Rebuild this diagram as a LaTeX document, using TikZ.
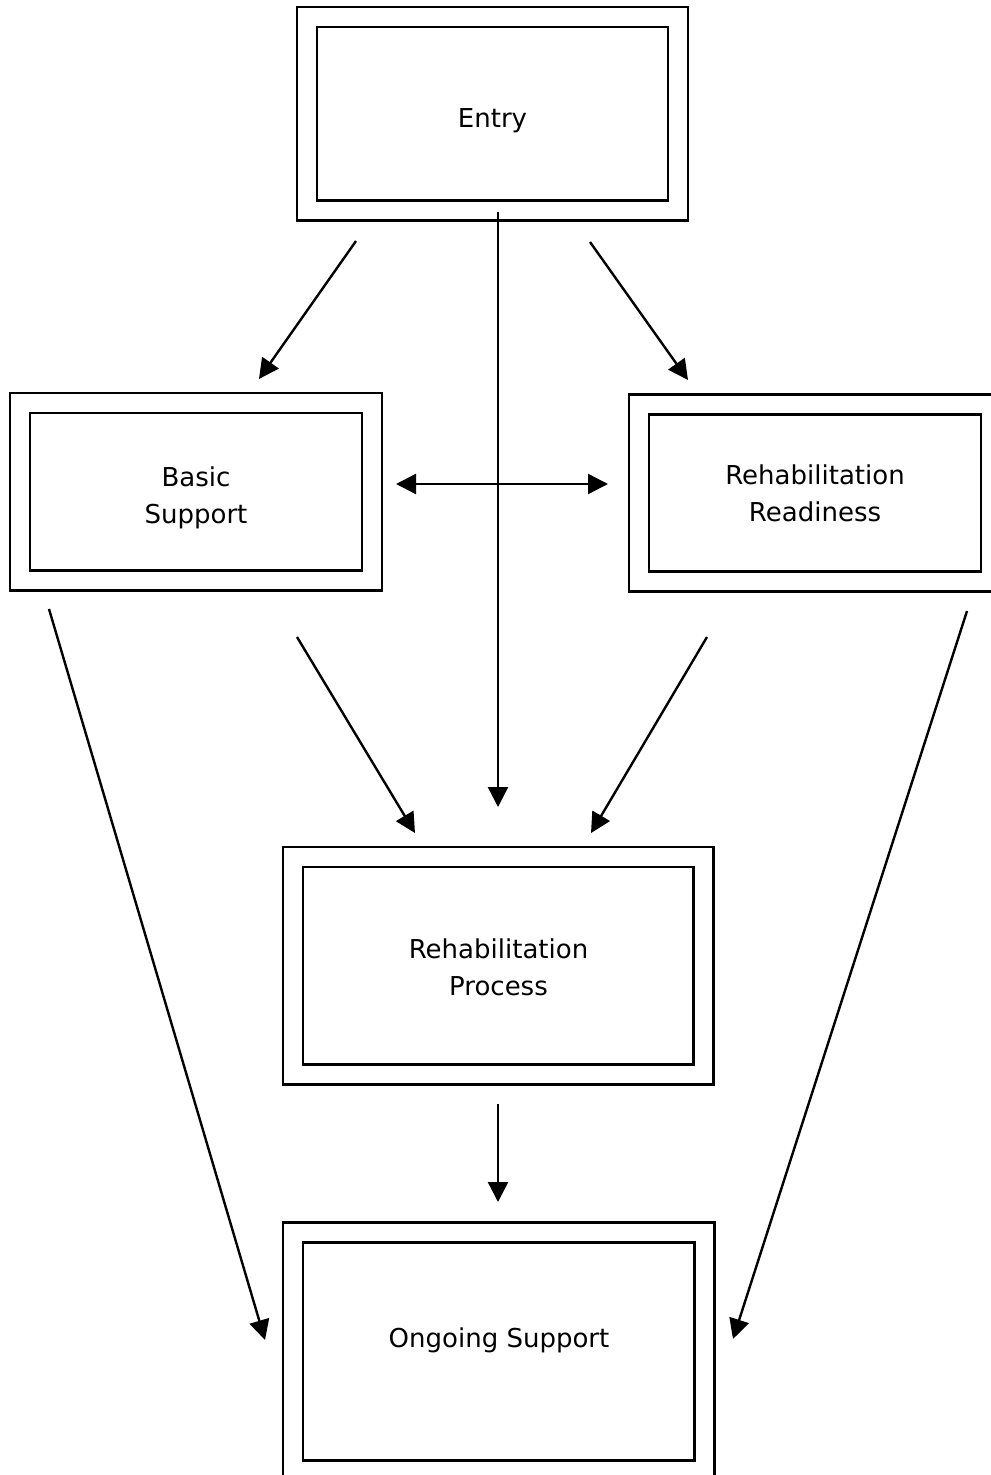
\documentclass[tikz,border=0pt]{standalone}
\usepackage{fontspec}
\setmainfont{DejaVu Sans}
\usetikzlibrary{arrows.meta}
\begin{document}
\begin{tikzpicture}[x=0.5pt,y=-0.5pt,
  dbox/.style={draw=black, line width=1.2pt, double=white, double distance=8.8pt,
    rectangle, inner sep=0pt},
  lbl/.style={inner sep=0pt, align=center, font=\fontsize{13pt}{18.5pt}\selectfont},
  tip/.style={Triangle[length=10pt,width=10pt]},
  arr/.style={line width=1.2pt, -{Triangle[length=10pt,width=10pt]}},
  darr/.style={line width=1.2pt, {Triangle[length=10pt,width=10pt]}-{Triangle[length=10pt,width=10pt]}}]
\useasboundingbox (0,0) rectangle (990,1475);

\node[dbox, minimum width=185.5pt, minimum height=96.75pt] (entry) at (492.5,113.75) {};
\node[dbox, minimum width=176pt, minimum height=88.75pt] (basic) at (196,491.75) {};
\node[dbox, minimum width=176pt, minimum height=88.5pt] (ready) at (815,493) {};
\node[dbox, minimum width=205.25pt, minimum height=108.75pt] (proc) at (498.25,965.75) {};
\node[dbox, minimum width=205.75pt, minimum height=119pt] (ongo) at (498.75,1351.5) {};

\node[lbl] (entrytxt) at (492.5,121) {Entry};
\node[lbl] (basictxt) at (196,498) {Basic\\Support};
\node[lbl] (readytxt) at (815,493) {Rehabilitation\\Readiness};
\node[lbl] (proctxt) at (498.5,967) {Rehabilitation\\Process};
\node[lbl] (ongotxt) at (499,1340) {Ongoing Support};

% connector end points
\coordinate (a1s) at (356,241); \coordinate (a1e) at (259,379);
\coordinate (a2s) at (590,242); \coordinate (a2e) at (688,380);
\coordinate (a3e) at (498,807);
\coordinate (a4s) at (396,484); \coordinate (a4e) at (608,484);
\coordinate (a5s) at (297,637); \coordinate (a5e) at (415,833);
\coordinate (a6s) at (707,637); \coordinate (a6e) at (591,833);
\coordinate (a7s) at (49,609);  \coordinate (a7e) at (265,1340);
\coordinate (a8s) at (967,611); \coordinate (a8e) at (733,1339);
\coordinate (a9s) at (498,1104); \coordinate (a9e) at (498,1202);

\draw[arr] (a1s) -- (a1e);
\draw[arr] (a2s) -- (a2e);
\draw[arr] (entry.south -| a3e) -- (a3e);
\draw[darr] (a4s) -- (a4e);
\draw[arr] (a5s) -- (a5e);
\draw[arr] (a6s) -- (a6e);
\draw[arr] (a7s) -- (a7e);
\draw[arr] (a8s) -- (a8e);
\draw[arr] (a9s) -- (a9e);
\end{tikzpicture}
\end{document}
